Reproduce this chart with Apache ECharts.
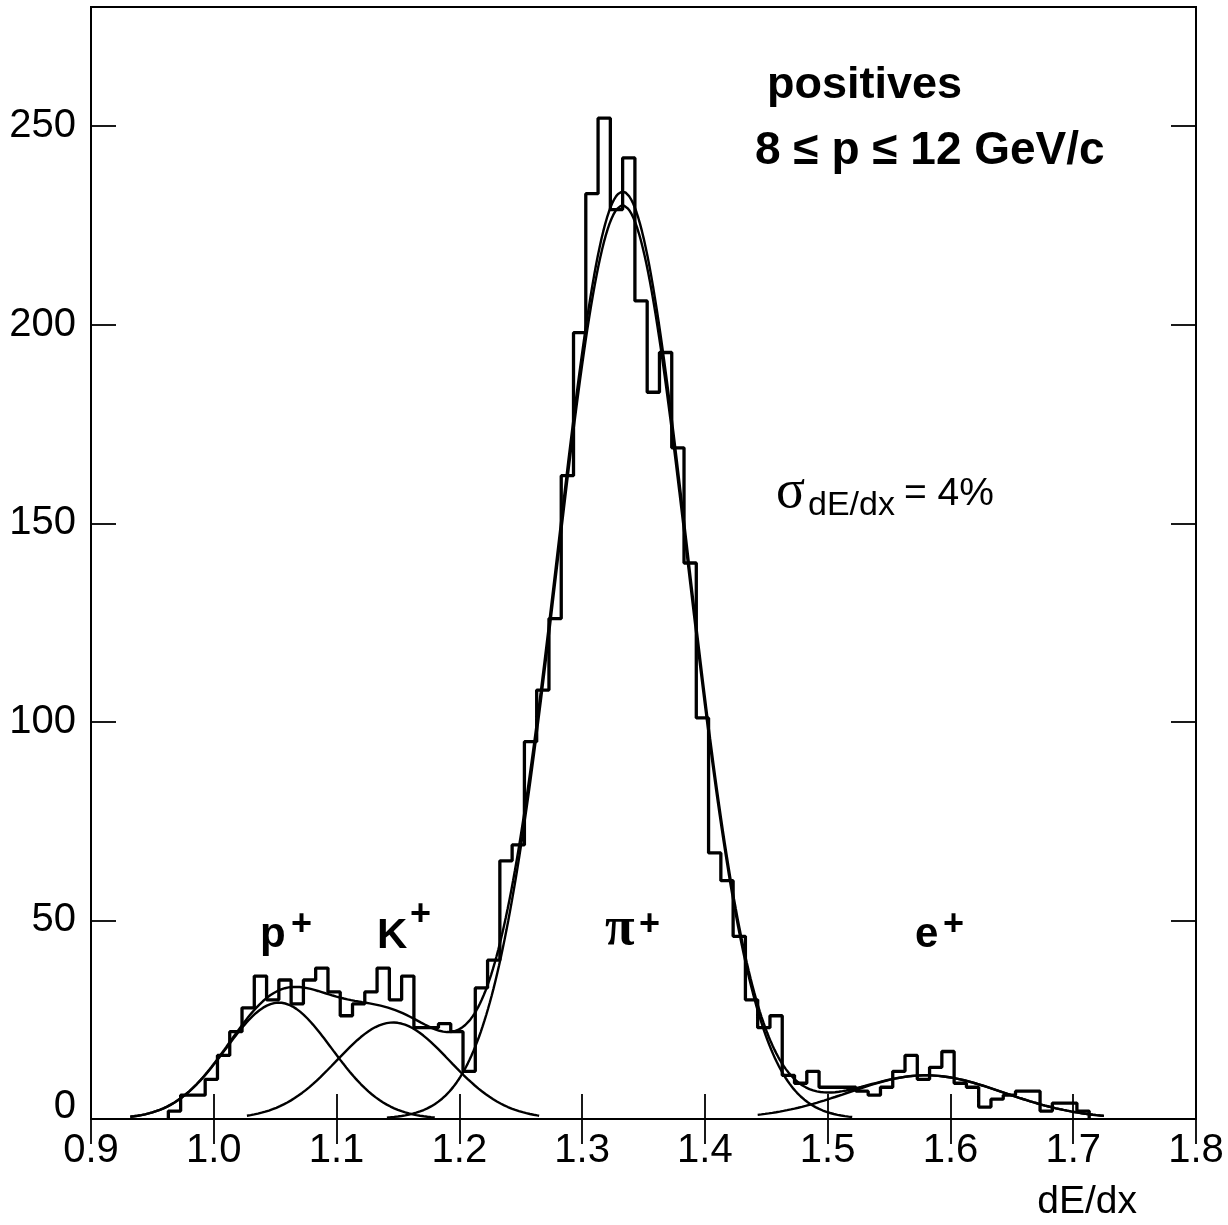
<!DOCTYPE html>
<html>
<head>
<meta charset="utf-8">
<script src="https://cdn.jsdelivr.net/npm/echarts@6/dist/echarts.min.js"></script>
<style>html,body{margin:0;padding:0;background:#fff}#c{width:1228px;height:1225px}</style>
</head>
<body>
<div id="c"></div>
<script>
// ---- histogram (dE/dx, bin width 0.01) ----
const binStart = 0.963;
const binWidth = 0.01;
const counts = [2, 6, 6, 10, 16, 22, 28, 36, 30, 35,
                29, 35, 38, 32, 26, 29, 32, 38, 30, 36,
                23, 23, 24, 22, 12, 33, 40, 65, 69, 95,
                108, 126, 162, 198, 233, 252, 229, 242, 206, 183,
                193, 169, 140, 101, 67, 60, 46, 30, 23, 26,
                11, 9, 12, 8, 8, 8, 7, 6, 8, 12,
                16, 10, 13, 17, 9, 8, 3, 5, 6, 7,
                7, 2, 4, 4, 2];

// ---- Gaussian fit components ----
const fitNames  = ['p+', 'K+', 'pi+', 'e+'];
const fitAmp    = [29.3, 24.3, 230, 11];
const fitMean   = [1.053, 1.146, 1.333, 1.58];
const fitSigma  = [0.043, 0.0458, 0.0533, 0.0632];
const fitFrom   = [0.932, 1.027, 1.141, 1.443];
const fitTo     = [1.18, 1.265, 1.52, 1.725];
// total fit curve amplitudes and range
const totalAmp  = [29.3, 24.3, 233.5, 11];
const totalFrom = 0.932;
const totalTo   = 1.725;

// ---- axes ----
const xTicks = [0.9, 1.0, 1.1, 1.2, 1.3, 1.4, 1.5, 1.6, 1.7, 1.8];
const yTicks = [0, 50, 100, 150, 200, 250];

function gauss(x, a, m, s) { return a * Math.exp(-0.5 * ((x - m) / s) ** 2); }

const histPts = [[binStart, 0]];
counts.forEach((c, i) => {
  const lo = binStart + i * binWidth;
  histPts.push([lo, c], [lo + binWidth, c]);
});
histPts.push([binStart + counts.length * binWidth, 0]);

function curve(from, to, f) {
  const pts = [];
  const n = Math.round((to - from) / 0.0015);
  for (let i = 0; i <= n; i++) {
    const x = from + (to - from) * i / n;
    pts.push([x, f(x)]);
  }
  return pts;
}

const FONT = "'Liberation Sans', Arial, Helvetica, sans-serif";
const SERIF = "'Liberation Serif', 'Times New Roman', serif";

const series = [];
series.push({
  type: 'line', data: histPts, showSymbol: false, z: 3,
  lineStyle: { color: '#000', width: 3.3 }, animation: false
});
fitNames.forEach((nm, k) => {
  series.push({
    type: 'line', name: nm, showSymbol: false, z: 4, animation: false,
    data: curve(fitFrom[k], fitTo[k], x => gauss(x, fitAmp[k], fitMean[k], fitSigma[k])),
    lineStyle: { color: '#000', width: 2.4 }
  });
});
series.push({
  type: 'line', name: 'total', showSymbol: false, z: 4, animation: false,
  data: curve(totalFrom, totalTo, x => {
    let s = 0;
    for (let k = 0; k < totalAmp.length; k++) s += gauss(x, totalAmp[k], fitMean[k], fitSigma[k]);
    return s;
  }),
  lineStyle: { color: '#000', width: 2.4 }
});

const xMin = xTicks[0], xMax = xTicks[xTicks.length - 1];
const tickStyle = { inside: true, length: 25, lineStyle: { color: '#000', width: 1.8 } };

function txt(x, y, text, size, opts) {
  return {
    type: 'text', x: x, y: y, z: 10,
    style: Object.assign({
      text: text, fontSize: size, fontFamily: FONT, fontWeight: 'normal',
      fill: '#000', textAlign: 'left', textVerticalAlign: 'middle'
    }, opts || {})
  };
}

const chart = echarts.init(document.getElementById('c'), null, { renderer: 'canvas' });
chart.setOption({
  backgroundColor: '#fff',
  animation: false,
  grid: { left: 91, right: 32, top: 7, bottom: 106, show: true, borderColor: '#000', borderWidth: 2, backgroundColor: 'transparent' },
  xAxis: [
    { type: 'value', min: xMin, max: xMax, interval: 0.1, position: 'bottom',
      axisLine: { show: true, lineStyle: { color: '#000', width: 2 } },
      axisTick: tickStyle, splitLine: { show: false },
      axisLabel: { margin: 12, fontSize: 40, fontFamily: FONT, color: '#000',
        formatter: v => v.toFixed(1) } },
    { type: 'value', min: xMin, max: xMax, interval: 0.1, position: 'top',
      axisLine: { show: true, lineStyle: { color: '#000', width: 2 } },
      axisTick: tickStyle, splitLine: { show: false }, axisLabel: { show: false } }
  ],
  yAxis: [
    { type: 'value', min: 0, max: 280, interval: 50, position: 'left',
      axisLine: { show: true, lineStyle: { color: '#000', width: 2 } },
      axisTick: tickStyle, splitLine: { show: false },
      axisLabel: { margin: 15, fontSize: 40, fontFamily: FONT, color: '#000',
        formatter: v => (v === 0 ? '{z|0}' : (yTicks.indexOf(v) >= 0 ? String(v) : '')),
        rich: { z: { fontSize: 40, fontFamily: FONT, color: '#000', padding: [0, 0, 24, 0] } } } },
    { type: 'value', min: 0, max: 280, interval: 50, position: 'right',
      axisLine: { show: true, lineStyle: { color: '#000', width: 2 } },
      axisTick: tickStyle, splitLine: { show: false }, axisLabel: { show: false } }
  ],
  series: series,
  graphic: [
    txt(1137, 1202, 'dE/dx', 39, { textAlign: 'right' }),
    txt(767, 86, 'positives', 45, { fontWeight: 'bold' }),
    txt(755, 151, '8 \u2264 p \u2264 12 GeV/c', 46, { fontWeight: 'bold' }),
    txt(776, 493, '\u03c3', 54, { fontFamily: SERIF }),
    txt(808, 506, 'dE/dx', 34),
    txt(904, 494, '= 4%', 39),
    txt(260, 935, 'p', 42, { fontWeight: 'bold' }),
    txt(291, 925, '+', 36, { fontWeight: 'bold' }),
    txt(377, 936, 'K', 42, { fontWeight: 'bold' }),
    txt(410, 915, '+', 36, { fontWeight: 'bold' }),
    txt(605, 930, '\u03c0', 54, { fontFamily: SERIF, fontWeight: 'bold' }),
    txt(639, 925, '+', 36, { fontWeight: 'bold' }),
    txt(915, 935, 'e', 42, { fontWeight: 'bold' }),
    txt(943, 925, '+', 36, { fontWeight: 'bold' })
  ]
});
</script>
</body>
</html>
